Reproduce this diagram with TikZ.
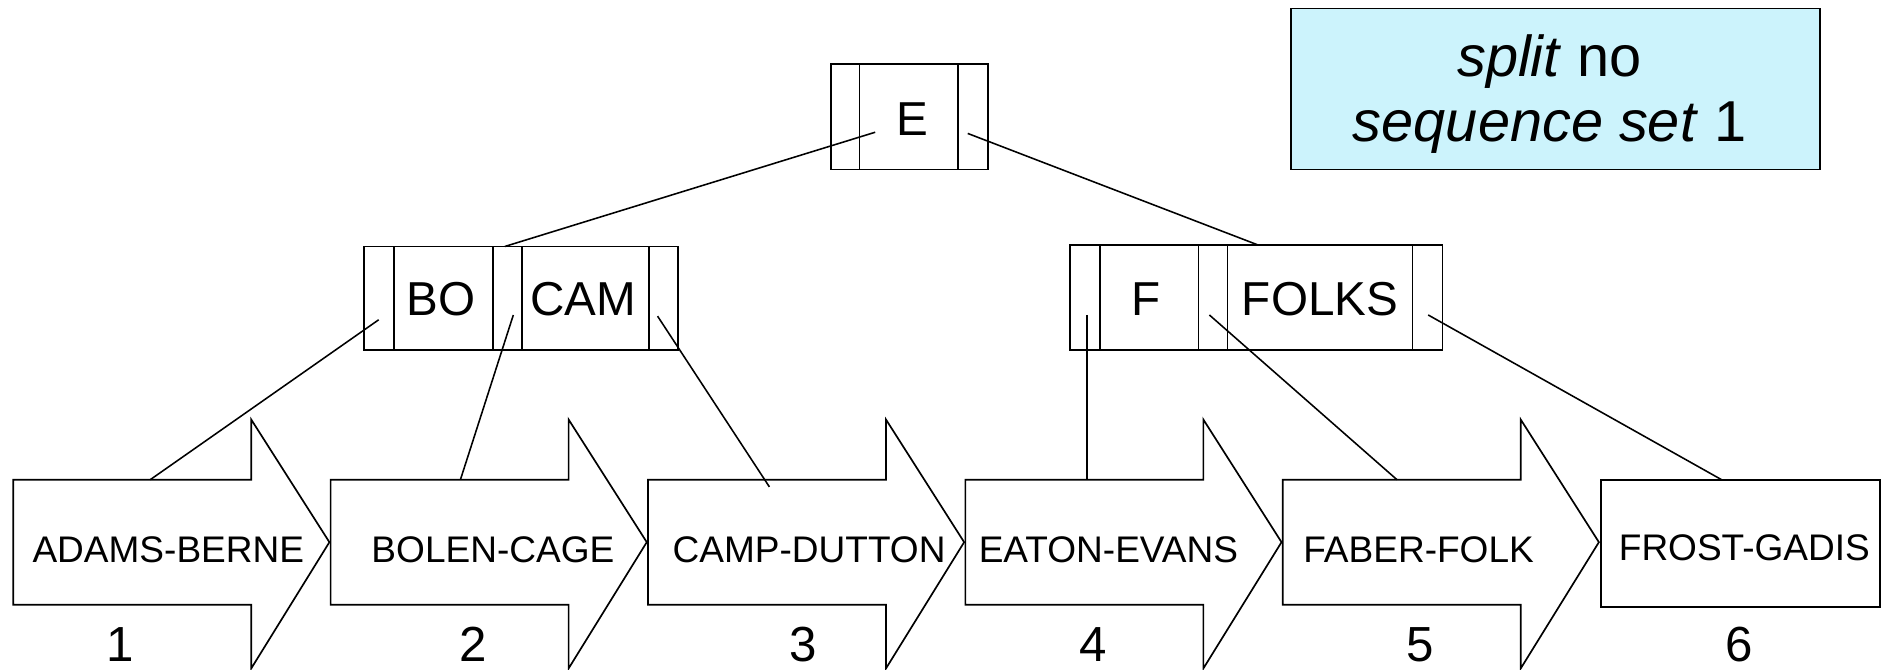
\documentclass[tikz,border=0pt]{standalone}
\usepackage{fontspec}
\setmainfont{Liberation Sans}
\definecolor{cyanbox}{RGB}{204,243,252}
\begin{document}
\begin{tikzpicture}[x=0.5pt,y=-0.5pt,line width=0.7pt,
  lbl/.style={inner sep=0pt,font=\fontsize{15.4}{18}\selectfont},
  keytext/.style={inner sep=0pt,font=\fontsize{19.8}{24}\selectfont},
  numtext/.style={inner sep=0pt,font=\fontsize{20.5}{25}\selectfont},
  notetext/.style={inner sep=0pt,anchor=base,font=\fontsize{24}{29}\selectfont},
  link/.style={line width=0.65pt},
  blockarrow/.style={draw,fill=white}]
\useasboundingbox (0,0) rectangle (1568,557);

% note box
\draw[fill=cyanbox] (1074,7) rectangle (1514,141);
\node[notetext] (n1) at (1289,64) {\textit{split} no};
\node[notetext] (n2) at (1289,118) {\textit{sequence set} 1};

% root node
\draw (691,53) rectangle (822,141);
\draw (715,53) -- (715,141) (797,53) -- (797,141);
\node[keytext] (kE) at (759,99) {E};

% left index node
\draw (303,205) rectangle (564,291);
\draw (328,205) -- (328,291) (410,205) -- (410,291) (434,205) -- (434,291) (540,205) -- (540,291);
\node[keytext] (kBO) at (367,249) {BO};
\node[keytext] (kCAM) at (485,249) {CAM};

% right index node
\draw (890,204) rectangle (1200,291);
\draw (915,204) -- (915,291) (997,204) -- (997,291) (1021,204) -- (1021,291) (1175,204) -- (1175,291);
\node[keytext] (kF) at (953,249) {F};
\node[keytext] (kFOLKS) at (1098,249) {FOLKS};

% sequence set blocks
\foreach \L in {11,275,539,803,1067}{
  \draw[blockarrow] (\L,399) -- (\L+198,399) -- (\L+198,349) -- (\L+263,451)
     -- (\L+198,556) -- (\L+198,503) -- (\L,503) -- cycle;
}
\draw[blockarrow] (1332,399) rectangle (1564,505);

\node[lbl] (b1) at (140,457) {ADAMS-BERNE};
\node[lbl] (b2) at (410,457) {BOLEN-CAGE};
\node[lbl] (b3) at (673,457) {CAMP-DUTTON};
\node[lbl] (b4) at (922,457) {EATON-EVANS};
\node[lbl] (b5) at (1180,457) {FABER-FOLK};
\node[lbl] (b6) at (1451,456) {FROST-GADIS};

\node[numtext] (m1) at (100,536) {1};
\node[numtext] (m2) at (394,536) {2};
\node[numtext] (m3) at (668,536) {3};
\node[numtext] (m4) at (909,536) {4};
\node[numtext] (m5) at (1181,536) {5};
\node[numtext] (m6) at (1447,536) {6};

% connector end points
\coordinate (pE1) at (728,110);
\coordinate (pE2) at (805,111);
\coordinate (tL) at (420,205);
\coordinate (tR) at (1047,204);
\coordinate (pL1) at (315,266);
\coordinate (pL2) at (427,262);
\coordinate (pL3) at (547,263);
\coordinate (pR1) at (904,262);
\coordinate (pR2) at (1006,262);
\coordinate (pR3) at (1188,262);
\coordinate (s1) at (125,399);
\coordinate (s2) at (383,399);
\coordinate (s3) at (640,405);
\coordinate (s4) at (904,399);
\coordinate (s5) at (1162,399);
\coordinate (s6) at (1432,399);

\draw[link] (pE1) -- (tL);
\draw[link] (pE2) -- (tR);
\draw[link] (pL1) -- (s1);
\draw[link] (pL2) -- (s2);
\draw[link] (pL3) -- (s3);
\draw[link] (pR1) -- (s4);
\draw[link] (pR2) -- (s5);
\draw[link] (pR3) -- (s6);
\end{tikzpicture}
\end{document}
